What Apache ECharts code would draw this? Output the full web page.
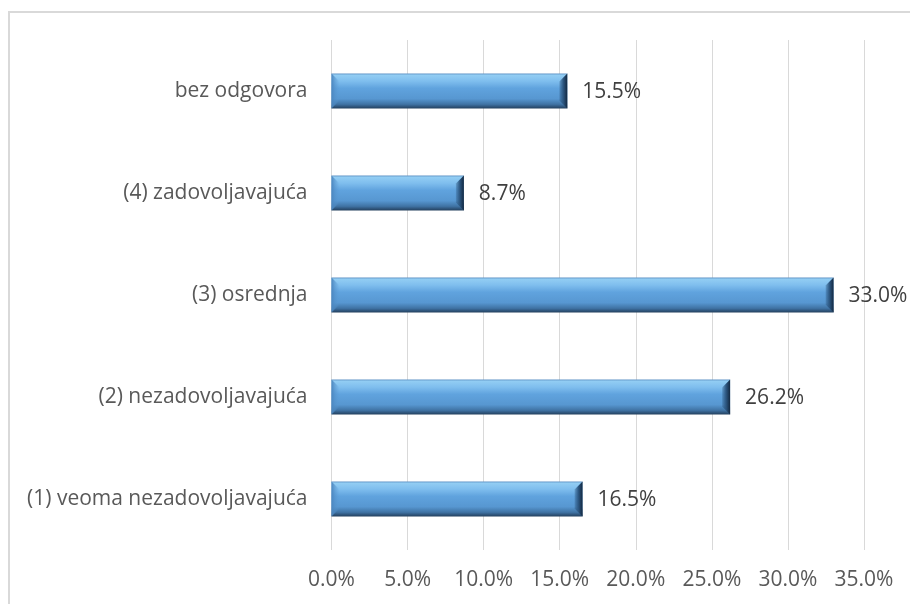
<!DOCTYPE html>
<html><head><meta charset="utf-8">
<script src="https://cdn.jsdelivr.net/npm/echarts@6/dist/echarts.min.js"></script>
<style>html,body{margin:0;padding:0;background:#fff}#frame{position:absolute;left:8px;top:11px;width:1000px;height:700px;border:2px solid #d9d9d9;box-sizing:border-box}#c{position:absolute;left:0;top:0;width:910px;height:604px}</style>
</head><body><div id="frame"></div><div id="c"></div>
<script>
const categories = ['(1) veoma nezadovoljavajuća', '(2) nezadovoljavajuća', '(3) osrednja', '(4) zadovoljavajuća', 'bez odgovora'];
const values = [16.5, 26.2, 33.0, 8.7, 15.5];
const tickValues = [0, 5, 10, 15, 20, 25, 30, 35];
const font = 'Open Sans';
const G = echarts.graphic;
const chart = echarts.init(document.getElementById('c'));
function renderBar(params, api) {
  const v = api.value(0), c = api.value(1);
  const p0 = api.coord([0, c]);
  const p1 = api.coord([v, c]);
  const band = api.size([0, 1])[1];
  const h = band * 0.345;
  const x0 = p0[0], x1 = p1[0], y0 = p0[1] - h / 2, y1 = p0[1] + h / 2;
  const b = 8;
  return {
    type: 'group',
    children: [
      { type: 'rect', shape: { x: x0, y: y0, width: x1 - x0, height: h },
        style: { fill: new G.LinearGradient(0, 0, 0, 1, [
          { offset: 0, color: '#5a8fc2' },
          { offset: 0.05, color: '#92cdf3' },
          { offset: 0.22, color: '#7fbeee' },
          { offset: 0.42, color: '#60a3de' },
          { offset: 0.72, color: '#5797d1' },
          { offset: 0.88, color: '#3f72a3' },
          { offset: 1, color: '#223e5b' }
        ]) } },
      { type: 'polygon', shape: { points: [[x0, y0], [x0 + b, y0 + b], [x0 + b, y1 - b], [x0, y1]] },
        style: { fill: new G.LinearGradient(0, 0, 1, 0, [
          { offset: 0, color: '#4b86bf' }, { offset: 1, color: 'rgba(91,155,213,0)' }
        ]) } },
      { type: 'polygon', shape: { points: [[x1, y0], [x1 - b, y0 + b], [x1 - b, y1 - b], [x1, y1]] },
        style: { fill: new G.LinearGradient(0, 0, 1, 0, [
          { offset: 0, color: 'rgba(40,80,120,0.25)' }, { offset: 0.5, color: '#2c5680' }, { offset: 1, color: '#132840' }
        ]) } },
      { type: 'text', x: x1 + 15, y: p0[1] + 1,
        style: { text: v.toFixed(1) + '%', fill: '#404040', font: '21px "Open Sans"', verticalAlign: 'middle', align: 'left' } }
    ]
  };
}
chart.setOption({
  animation: false,
  grid: { left: 331.5, right: 46, top: 40, height: 510, containLabel: false },
  xAxis: {
    type: 'value', min: 0, max: 35, interval: 5,
    axisLine: { show: false }, axisTick: { show: false },
    splitLine: { lineStyle: { color: '#d9d9d9', width: 1 } },
    axisLabel: { margin: 20, color: '#595959', fontFamily: font, fontSize: 21, formatter: v => v.toFixed(1) + '%' }
  },
  yAxis: {
    type: 'category', data: categories,
    axisLine: { show: false }, axisTick: { show: false },
    axisLabel: { margin: 24, color: '#595959', fontFamily: font, fontSize: 21 }
  },
  series: [{
    type: 'custom', renderItem: renderBar,
    data: values.map((v, i) => [v, i]),
    encode: { x: 0, y: 1 }
  }]
});
</script></body></html>
